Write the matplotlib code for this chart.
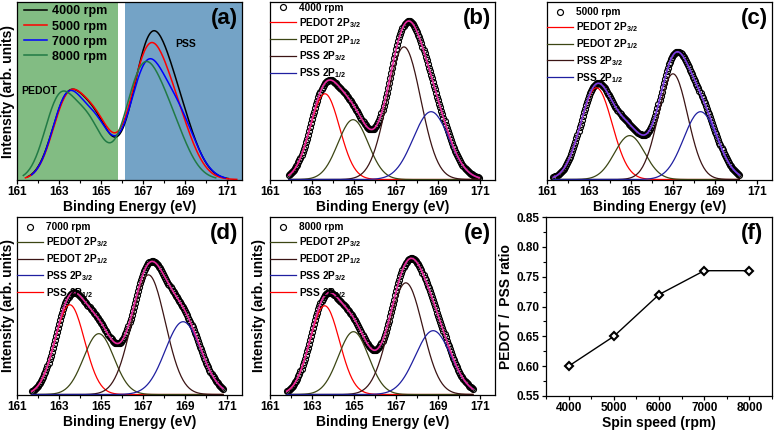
import numpy as np
import matplotlib
matplotlib.use("Agg")
from matplotlib import pyplot as plt
from matplotlib.ticker import MultipleLocator, FixedLocator

plt.rcParams['font.family'] = ['Liberation Sans', 'DejaVu Sans']
plt.rcParams['font.weight'] = 'bold'
plt.rcParams['axes.labelweight'] = 'bold'
plt.rcParams['mathtext.fontset'] = 'custom'
plt.rcParams['mathtext.rm'] = 'Liberation Sans:bold'
plt.rcParams['mathtext.bf'] = 'Liberation Sans:bold'
plt.rcParams['axes.linewidth'] = 0.9

# ---- data (peak components: centre eV, height, sigma eV) ----
# panel (a): normalised S 2p spectra
a_labels = ["4000 rpm", "5000 rpm", "7000 rpm", "8000 rpm"]
a_colors = ["black", "#ff0000", "#0000ff", "#217a45"]
a_4000 = [(163.36, 76, 0.72), (164.70, 56, 0.74), (167.28, 125, 0.82), (168.58, 64, 0.85)]
a_5000 = [(163.39, 76, 0.72), (164.73, 56, 0.74), (167.18, 115, 0.82), (168.48, 59, 0.85)]
a_7000 = [(163.36, 78.6, 0.70), (164.74, 53.3, 0.72), (167.12, 105, 0.80), (168.62, 62, 0.85)]
a_8000 = [(163.00, 77.2, 0.70), (164.37, 54.6, 0.72), (166.90, 97.1, 0.80), (168.20, 55.5, 0.85)]
a_ranges = [(161.5, 171.1), (161.4, 171.5), (161.7, 170.9), (161.3, 170.5)]

# panels (b)-(e): fitted components, order = red, olive, brown, blue curve
fit_b = [(163.61, 86, 0.70), (164.95, 60, 0.72), (167.37, 133, 0.80), (168.66, 68, 0.85)]
fit_c = [(163.35, 92, 0.75), (164.93, 44, 0.72), (166.99, 106, 0.70), (168.30, 68, 0.80)]
fit_d = [(163.51, 90, 0.70), (164.89, 61, 0.72), (167.25, 120, 0.80), (168.90, 73, 0.85)]
fit_e = [(163.60, 89, 0.70), (164.97, 63, 0.72), (167.46, 112, 0.80), (168.76, 64, 0.85)]
fit_ranges = [(161.9, 171.0), (161.3, 170.2), (161.7, 170.8), (161.8, 170.7)]
fit_titles = ["4000 rpm", "5000 rpm", "7000 rpm", "8000 rpm"]
comp_colors = ["#ff0000", "#3c4614", "#3b1414", "#1f1fa0"]
labels_bc = [r"PEDOT 2P$_{3/2}$", r"PEDOT 2P$_{1/2}$", r"PSS 2P$_{3/2}$", r"PSS 2P$_{1/2}$"]
labels_de = [r"PSS 2P$_{1/2}$", r"PEDOT 2P$_{3/2}$", r"PEDOT 2P$_{1/2}$", r"PSS 2P$_{3/2}$"]
env_colors = ["#e8289e", "#7d3ce6", "#e8289e", "#e8289e"]
be_ticks = [161, 163, 165, 167, 169, 171]

# panel (f)
spin = [4000, 5000, 6000, 7000, 8000]
ratio = [0.60, 0.65, 0.72, 0.76, 0.76]


def peak_sum(x, peaks):
    return sum(h * np.exp(-0.5 * ((x - c) / s) ** 2) for c, h, s in peaks)


def peak_one(x, p):
    c, h, s = p
    return h * np.exp(-0.5 * ((x - c) / s) ** 2)


W, H = 774, 430
fig = plt.figure(figsize=(W / 100, H / 100), dpi=100)


def box(left, top, w=225, h=178):
    return [left / W, 1 - (top + h) / H, w / W, h / H]


def style_xps(ax, letter, ylab_x=None):
    ax.set_xlim(161, 171.7)
    ax.set_ylim(-0.5, 178)
    ax.xaxis.set_major_locator(FixedLocator(be_ticks))
    ax.xaxis.set_minor_locator(MultipleLocator(1))
    ax.tick_params(axis='x', which='major', direction='out', length=3, width=0.9,
                   labelsize=8.5, pad=1.5)
    ax.tick_params(axis='x', which='minor', direction='out', length=2, width=0.8)
    ax.tick_params(axis='y', left=False, labelleft=False)
    ax.set_xlabel("Binding Energy (eV)", fontsize=10, labelpad=1)
    if ylab_x is not None:
        ax.set_ylabel("Intensity (arb. units)", fontsize=10)
        ax.yaxis.set_label_coords(ylab_x, 0.5)
    ax.text(0.92, 0.91, letter, transform=ax.transAxes, fontsize=16,
            fontweight='bold', ha='center', va='center')


# ---- (a) ----
ax = fig.add_axes(box(17, 2))
ax.axvspan(161, 165.8, color="#82bc83", lw=0, zorder=0)
ax.axvspan(166.15, 171.7, color="#74a3c6", lw=0, zorder=0)
for peaks, rng, col, lab in zip([a_4000, a_5000, a_7000, a_8000], a_ranges, a_colors, a_labels):
    x = np.arange(rng[0], rng[1], 0.05)
    ax.plot(x, peak_sum(x, peaks), color=col, lw=1.1, label=lab)
ax.text(162.05, 89, "PEDOT", fontsize=7.5, ha='center', va='center')
ax.text(169.0, 136, "PSS", fontsize=7.5, ha='center', va='center')
ax.legend(loc='upper left', bbox_to_anchor=(-0.01, 1.03), frameon=False, fontsize=9,
          handlelength=1.9, handletextpad=0.35, labelspacing=0.25, borderpad=0.2)
style_xps(ax, "(a)", -0.01)

# ---- (b)-(e) ----
fits = [fit_b, fit_c, fit_d, fit_e]
spots = [(270, 2), (547, 2), (17, 217), (270, 217)]
letters = ["(b)", "(c)", "(d)", "(e)"]
ylab_pos = [None, None, -0.01, -0.016]
for i in range(4):
    ax = fig.add_axes(box(*spots[i]))
    rng = fit_ranges[i]
    x = np.arange(rng[0], rng[1], 0.05)
    env = peak_sum(x, fits[i])
    h_data, = ax.plot(x, env, ls='none', marker='o', ms=4.3, mfc='none', mec='black',
                      mew=0.85, label=fit_titles[i])
    labs = labels_bc if i < 2 else labels_de
    comp_lines = []
    for p, col in zip(fits[i], comp_colors):
        ln, = ax.plot(x, peak_one(x, p), color=col, lw=0.9)
        comp_lines.append(ln)
    ax.plot(x, env, color=env_colors[i], lw=1.2)
    if i < 2:
        handles = [h_data] + comp_lines
        names = [fit_titles[i]] + labs
    else:
        # legend order in (d)/(e): olive, brown, blue, red
        handles = [h_data, comp_lines[1], comp_lines[2], comp_lines[3], comp_lines[0]]
        names = [fit_titles[i], labs[1], labs[2], labs[3], labs[0]]
    top = 1.035 if i == 0 else 1.01
    ax.legend(handles, names, loc='upper left', bbox_to_anchor=(-0.03, top),
              frameon=False, fontsize=7.3, handlelength=2.5, handletextpad=0.3,
              labelspacing=0.3, borderpad=0.2, numpoints=1)
    style_xps(ax, letters[i], ylab_pos[i])

# ---- (f) ----
ax = fig.add_axes(box(546, 217, 226, 179))
ax.plot(spin, ratio, color='black', lw=1, marker='D', ms=4.5, mfc='white',
        mec='black', mew=1.5)
ax.set_xlim(3500, 8500)
ax.set_ylim(0.55, 0.85)
ax.xaxis.set_major_locator(MultipleLocator(1000))
ax.xaxis.set_minor_locator(MultipleLocator(500))
ax.yaxis.set_major_locator(MultipleLocator(0.05))
ax.yaxis.set_minor_locator(MultipleLocator(0.025))
ax.yaxis.set_major_formatter(plt.FormatStrFormatter('%.2f'))
ax.tick_params(which='major', direction='out', length=3, width=0.9, labelsize=8.5, pad=1.5)
ax.tick_params(which='minor', direction='out', length=2, width=0.8)
ax.set_xlabel("Spin speed (rpm)", fontsize=10, labelpad=1)
ax.set_ylabel("PEDOT /  PSS ratio", fontsize=10)
ax.yaxis.set_label_coords(-0.146, 0.5)
ax.text(0.91, 0.91, "(f)", transform=ax.transAxes, fontsize=16,
        fontweight='bold', ha='center', va='center')

fig.savefig("out.png", dpi=100)
